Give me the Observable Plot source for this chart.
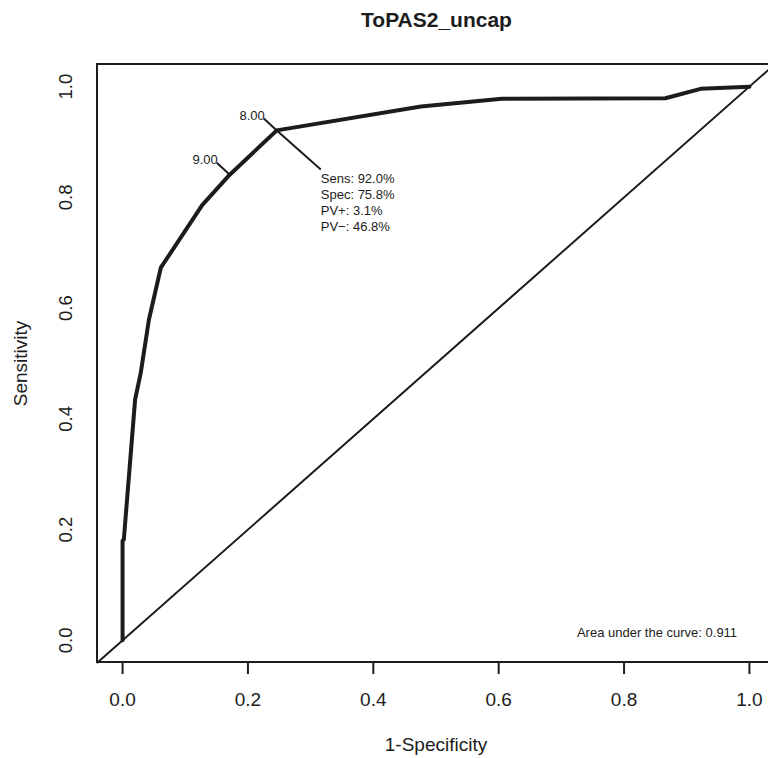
<!DOCTYPE html>
<html>
<head>
<meta charset="utf-8">
<script src="https://cdn.jsdelivr.net/npm/d3@7"></script>
<script src="https://cdn.jsdelivr.net/npm/@observablehq/plot@0.6"></script>
<style>
  html, body { margin: 0; padding: 0; background: #fff; overflow: hidden; }
  #title { width: 768px; height: 40px; box-sizing: border-box; padding-top: 9px; padding-left: 105px;
           text-align: center; font: bold 21px/21px "Liberation Sans", Arial, sans-serif; color: #1c1c1c; }
</style>
</head>
<body>
<div id="title">ToPAS2_uncap</div>
<div id="chart"></div>
<script>
// ROC curve (1-Specificity, Sensitivity)
const fpr  = [0, 0, 0.002, 0.020, 0.029, 0.042, 0.061, 0.127, 0.171, 0.246, 0.476, 0.605, 0.866, 0.922, 1.0];
const sens = [0, 0.180, 0.182, 0.435, 0.483, 0.579, 0.673, 0.786, 0.841, 0.921, 0.964, 0.978, 0.979, 0.996, 1.0];
const tickValues = [0, 0.2, 0.4, 0.6, 0.8, 1.0];
const thrLabels = ["9.00", "8.00"];
const thrFpr = [0.171, 0.246];
const thrSens = [0.841, 0.921];
const statLabels = ["Sens: 92.0%", "Spec: 75.8%", "PV+: 3.1%", "PV\u2212: 46.8%"];
const aucValue = 0.911;

const X_DOMAIN = [-0.04, 1.04], Y_DOMAIN = [-0.04, 1.04];
const X_RANGE = [97, 774], Y_RANGE = [622, 24];
const pxToX = px => px * (X_DOMAIN[1] - X_DOMAIN[0]) / (X_RANGE[1] - X_RANGE[0]);
const pxToY = px => px * (Y_DOMAIN[1] - Y_DOMAIN[0]) / (Y_RANGE[1] - Y_RANGE[0]);

const roc = fpr.map((f, i) => ({fpr: f, sens: sens[i]}));
const thr = thrLabels.map((t, i) => ({label: t, fpr: thrFpr[i], sens: thrSens[i]}));
const best = thr[thr.length - 1];
const ink = "#1c1c1c";

const chart = Plot.plot({
  width: 768,
  height: 718,
  marginLeft: 97, marginRight: 0, marginTop: 24, marginBottom: 96,
  style: {fontFamily: '"Liberation Sans", Arial, sans-serif', color: ink, background: "#fff", overflow: "hidden"},
  x: {domain: X_DOMAIN, range: X_RANGE},
  y: {domain: Y_DOMAIN, range: Y_RANGE},
  marks: [
    // plot box
    Plot.rect([0], {x1: X_DOMAIN[0], x2: X_DOMAIN[1], y1: Y_DOMAIN[0], y2: Y_DOMAIN[1], fill: "none", stroke: ink, strokeWidth: 2}),
    // chance diagonal
    Plot.line(X_DOMAIN.map(v => ({x: v, y: v})), {x: "x", y: "y", stroke: ink, strokeWidth: 2}),
    // ROC curve
    Plot.line(roc, {x: "fpr", y: "sens", stroke: ink, strokeWidth: 4, strokeLinejoin: "round", strokeLinecap: "round"}),
    // threshold label leaders
    Plot.link(thr, {x1: "fpr", y1: "sens", x2: d => d.fpr + pxToX(-13), y2: d => d.sens + pxToY(-12), stroke: ink, strokeWidth: 2}),
    Plot.link([best], {x1: "fpr", y1: "sens", x2: d => d.fpr + pxToX(44), y2: d => d.sens + pxToY(39), stroke: ink, strokeWidth: 2}),
    Plot.text(thr, {x: "fpr", y: "sens", text: "label", textAnchor: "end", dx: -12, dy: -15, fontSize: 13, fill: ink}),
    Plot.text([best], {x: "fpr", y: "sens", text: () => statLabels.join("\n"), textAnchor: "start", lineAnchor: "top",
      dx: 44, dy: 41, lineHeight: 16 / 13, fontSize: 13, fill: ink}),
    Plot.text([aucValue], {frameAnchor: "bottom-right", text: d => "Area under the curve: " + d3.format(".3f")(d),
      dx: -111.5, dy: -26, textAnchor: "middle", fontSize: 13, fill: ink}),
    // axes
    Plot.axisX({ticks: tickValues, tickFormat: d3.format(".1f"), tickSize: 12, tickPadding: 18, fontSize: 19, strokeWidth: 2, label: null}),
    Plot.axisY({ticks: tickValues, tickFormat: d3.format(".1f"), tickSize: 12, tickPadding: 19, fontSize: 18.5,
      rotate: -90, textAnchor: "middle", strokeWidth: 2, label: null}),
    Plot.text(["1-Specificity"], {frameAnchor: "bottom", dx: 3, dy: 82, lineAnchor: "middle", fontSize: 19, fill: ink}),
    Plot.text(["Sensitivity"], {frameAnchor: "left", dx: -77, rotate: -90, lineAnchor: "middle", textAnchor: "middle", fontSize: 19, fill: ink})
  ]
});
document.getElementById("chart").appendChild(chart);
</script>
</body>
</html>
